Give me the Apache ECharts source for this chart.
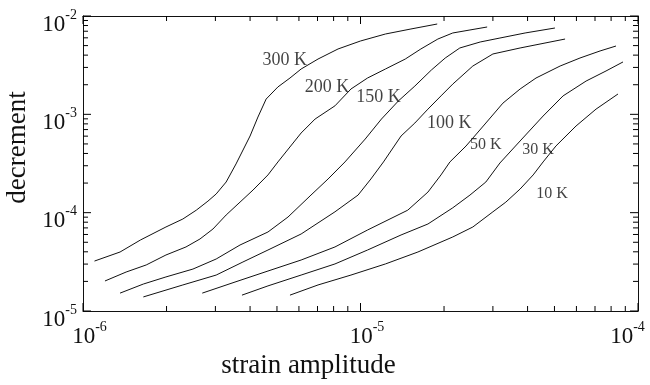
<!DOCTYPE html>
<html>
<head>
<meta charset="utf-8">
<script src="https://cdn.jsdelivr.net/npm/echarts@6/dist/echarts.min.js"></script>
<style>html,body{margin:0;padding:0;background:#fff}#chart{width:650px;height:385px}</style>
</head>
<body>
<div id="chart"></div>
<script>
// strain amplitude (x) and decrement (y)
const x300 = [1.10e-6, 1.36e-6, 1.61e-6, 1.99e-6, 2.29e-6, 2.56e-6, 2.82e-6, 3.02e-6, 3.28e-6, 3.56e-6, 4.00e-6, 4.27e-6, 4.57e-6, 5.04e-6, 5.57e-6, 6.11e-6, 7.03e-6, 8.30e-6, 1.00e-5, 1.23e-5, 1.52e-5, 1.89e-5];
const y300 = [3.22e-5, 3.98e-5, 5.27e-5, 7.15e-5, 8.62e-5, 1.06e-4, 1.31e-4, 1.55e-4, 2.05e-4, 3.13e-4, 6.02e-4, 9.39e-4, 1.43e-3, 1.90e-3, 2.34e-3, 2.89e-3, 3.65e-3, 4.62e-3, 5.57e-3, 6.56e-3, 7.38e-3, 8.29e-3];

const x200 = [1.20e-6, 1.43e-6, 1.69e-6, 1.99e-6, 2.35e-6, 2.64e-6, 2.94e-6, 3.28e-6, 3.68e-6, 4.10e-6, 4.64e-6, 5.04e-6, 6.11e-6, 6.86e-6, 8.09e-6, 9.24e-6, 1.06e-5, 1.23e-5, 1.45e-5, 1.65e-5, 1.90e-5, 2.15e-5, 2.48e-5, 2.86e-5];
const y200 = [2.02e-5, 2.49e-5, 2.94e-5, 3.71e-5, 4.48e-5, 5.40e-5, 6.82e-5, 9.47e-5, 1.28e-4, 1.70e-4, 2.42e-4, 3.28e-4, 6.46e-4, 8.96e-4, 1.22e-3, 1.81e-3, 2.34e-3, 2.89e-3, 3.65e-3, 4.62e-3, 5.83e-3, 6.72e-3, 7.21e-3, 7.73e-3];

const x150 = [1.36e-6, 1.65e-6, 1.99e-6, 2.49e-6, 3.02e-6, 3.68e-6, 4.64e-6, 5.48e-6, 6.63e-6, 7.64e-6, 8.79e-6, 1.04e-5, 1.19e-5, 1.37e-5, 1.57e-5, 1.80e-5, 2.02e-5, 2.28e-5, 2.70e-5, 3.18e-5, 3.92e-5, 5.02e-5];
const y150 = [1.52e-5, 1.88e-5, 2.22e-5, 2.67e-5, 3.38e-5, 4.69e-5, 6.36e-5, 9.03e-5, 1.51e-4, 2.20e-4, 3.28e-4, 5.61e-4, 8.96e-4, 1.37e-3, 1.94e-3, 2.82e-3, 3.74e-3, 4.73e-3, 5.44e-3, 5.97e-3, 6.72e-3, 7.55e-3];

const x100 = [1.65e-6, 2.29e-6, 3.02e-6, 3.77e-6, 4.64e-6, 6.11e-6, 8.09e-6, 9.80e-6, 1.09e-5, 1.21e-5, 1.40e-5, 1.57e-5, 1.75e-5, 1.95e-5, 2.15e-5, 2.54e-5, 3.00e-5, 3.76e-5, 5.46e-5];
const y100 = [1.39e-5, 1.84e-5, 2.32e-5, 3.15e-5, 4.17e-5, 6.07e-5, 1.02e-4, 1.51e-4, 2.20e-4, 3.28e-4, 6.02e-4, 8.16e-4, 1.13e-3, 1.54e-3, 2.03e-3, 3.10e-3, 4.11e-3, 4.73e-3, 5.83e-3];

const x50 = [2.69e-6, 3.53e-6, 4.64e-6, 6.11e-6, 8.09e-6, 1.06e-5, 1.48e-5, 1.75e-5, 1.95e-5, 2.10e-5, 2.40e-5, 2.83e-5, 3.26e-5, 3.76e-5, 4.29e-5, 5.24e-5, 6.18e-5, 7.30e-5, 8.33e-5];
const y50 = [1.52e-5, 1.97e-5, 2.55e-5, 3.30e-5, 4.48e-5, 6.66e-5, 1.06e-4, 1.62e-4, 2.42e-4, 3.28e-4, 4.76e-4, 8.16e-4, 1.30e-3, 1.81e-3, 2.34e-3, 3.10e-3, 3.74e-3, 4.41e-3, 4.95e-3];

const x30 = [3.74e-6, 4.64e-6, 6.11e-6, 8.09e-6, 1.06e-5, 1.40e-5, 1.75e-5, 2.15e-5, 2.48e-5, 2.83e-5, 3.18e-5, 3.76e-5, 4.55e-5, 5.37e-5, 6.50e-5, 7.67e-5, 8.83e-5];
const y30 = [1.45e-5, 1.80e-5, 2.32e-5, 3.01e-5, 4.17e-5, 5.93e-5, 7.67e-5, 1.12e-4, 1.51e-4, 2.05e-4, 3.20e-4, 5.36e-4, 9.61e-4, 1.54e-3, 2.18e-3, 2.76e-3, 3.41e-3];

const x10 = [5.57e-6, 7.03e-6, 9.24e-6, 1.23e-5, 1.61e-5, 2.15e-5, 2.54e-5, 3.00e-5, 3.34e-5, 3.76e-5, 4.19e-5, 4.55e-5, 5.06e-5, 5.98e-5, 7.06e-5, 8.47e-5];
const y10 = [1.45e-5, 1.84e-5, 2.32e-5, 3.01e-5, 3.98e-5, 5.66e-5, 7.15e-5, 1.02e-4, 1.28e-4, 1.74e-4, 2.42e-4, 3.28e-4, 4.76e-4, 7.61e-4, 1.13e-3, 1.61e-3];

// curve labels and where they sit (data coords)
const labelText = ['300 K', '200 K', '150 K', '100 K', '50 K', '30 K', '10 K'];
const labelX = [5.33e-6, 7.57e-6, 1.16e-5, 2.09e-5, 2.83e-5, 4.36e-5, 4.90e-5];
const labelY = [3.57e-3, 1.87e-3, 1.48e-3, 8.16e-4, 4.88e-4, 4.34e-4, 1.57e-4];

// axis ranges, decade ticks and minor (2..9 per decade) tick values
const xRange = [1e-6, 1e-4];
const yRange = [1e-5, 1e-2];
const majorX = [1e-6, 1e-5, 1e-4];
const majorY = [1e-5, 1e-4, 1e-3, 1e-2];
const mantissas = [2, 3, 4, 5, 6, 7, 8, 9];
const minorX = majorX.slice(0, -1).flatMap((d) => mantissas.map((m) => m * d));
const minorY = majorY.slice(0, -1).flatMap((d) => mantissas.map((m) => m * d));

const curves = [[x300, y300], [x200, y200], [x150, y150], [x100, y100], [x50, y50], [x30, y30], [x10, y10]];

const FONT = "'Liberation Serif', 'DejaVu Serif', serif";
const INK = '#111';
const TICK = '#000';
const MAJOR_LEN = 8;
const MINOR_LEN = 5;

const expOf = (v) => Math.round(Math.log10(v));

const axisCommon = {
  axisLine: { show: true, lineStyle: { color: INK, width: 1 } },
  axisTick: { show: false },
  minorTick: { show: false },
  splitLine: { show: false },
  minorSplitLine: { show: false }
};

// inward ticks on all four sides of the frame, placed through the log axes
function tickSeries(values, vertical, len) {
  return {
    type: 'custom',
    silent: true,
    clip: false,
    z: 10,
    data: values.map((v) => (vertical ? [xRange[0], v] : [v, yRange[0]])),
    renderItem: (params, api) => {
      const v = vertical ? api.value(1) : api.value(0);
      const a = api.coord(vertical ? [xRange[0], v] : [v, yRange[0]]);
      const b = api.coord(vertical ? [xRange[1], v] : [v, yRange[1]]);
      const style = { stroke: TICK, lineWidth: 1 };
      const shapes = vertical
        ? [{ x1: a[0], y1: a[1], x2: a[0] + len, y2: a[1] }, { x1: b[0], y1: b[1], x2: b[0] - len, y2: b[1] }]
        : [{ x1: a[0], y1: a[1], x2: a[0], y2: a[1] - len }, { x1: b[0], y1: b[1], x2: b[0], y2: b[1] + len }];
      return { type: 'group', children: shapes.map((shape) => ({ type: 'line', shape, style })) };
    }
  };
}

const chart = echarts.init(document.getElementById('chart'), null, { renderer: 'canvas' });

chart.setOption({
  animation: false,
  backgroundColor: '#fff',
  grid: { left: 83, right: 12, top: 16, bottom: 74, containLabel: false, outerBoundsMode: 'none' },
  xAxis: [
    {
      type: 'log', logBase: 10, min: xRange[0], max: xRange[1], position: 'bottom',
      ...axisCommon,
      axisLabel: {
        margin: 9,
        formatter: (v) => expOf(v) === -4 ? `{bl|10}{sl|${expOf(v)}}` : `{b|10}{s|${expOf(v)}}`,
        rich: {
          b: { fontFamily: FONT, fontSize: 23, color: INK, lineHeight: 28, verticalAlign: 'bottom', padding: [0, 0, 0, 13] },
          s: { fontFamily: FONT, fontSize: 14, color: INK, verticalAlign: 'top' },
          bl: { fontFamily: FONT, fontSize: 23, color: INK, lineHeight: 28, verticalAlign: 'bottom' },
          sl: { fontFamily: FONT, fontSize: 14, color: INK, verticalAlign: 'top', padding: [0, 21, 0, 0] }
        }
      },
      name: 'strain amplitude', nameLocation: 'middle', nameGap: 38,
      nameTextStyle: { fontFamily: FONT, fontSize: 27, color: INK, padding: [0, 104, 0, 0] }
    },
    { type: 'log', logBase: 10, min: xRange[0], max: xRange[1], position: 'top', ...axisCommon, axisLabel: { show: false } }
  ],
  yAxis: [
    {
      type: 'log', logBase: 10, min: yRange[0], max: yRange[1], position: 'left',
      ...axisCommon,
      axisLabel: {
        margin: 6,
        padding: [12, 0, 0, 0],
        formatter: (v) => `{b|10}{s|${expOf(v)}}`,
        rich: {
          b: { fontFamily: FONT, fontSize: 23, color: INK, lineHeight: 28, verticalAlign: 'bottom' },
          s: { fontFamily: FONT, fontSize: 14, color: INK, verticalAlign: 'top' }
        }
      },
      name: 'decrement', nameLocation: 'middle', nameGap: 46, nameRotate: 90,
      nameTextStyle: { fontFamily: FONT, fontSize: 27, color: INK, padding: [0, 0, 0, 32] }
    },
    { type: 'log', logBase: 10, min: yRange[0], max: yRange[1], position: 'right', ...axisCommon, axisLabel: { show: false } }
  ],
  series: [
    ...curves.map(([xs, ys]) => ({
      type: 'line',
      data: xs.map((x, i) => [x, ys[i]]),
      showSymbol: false,
      silent: true,
      lineStyle: { color: INK, width: 1 }
    })),
    tickSeries(majorX, false, MAJOR_LEN),
    tickSeries(majorY, true, MAJOR_LEN),
    tickSeries(minorX, false, MINOR_LEN),
    tickSeries(minorY, true, MINOR_LEN),
    {
      type: 'scatter',
      symbolSize: 1,
      itemStyle: { color: 'rgba(0,0,0,0)' },
      silent: true,
      data: labelText.map((t, i) => ({ name: t, value: [labelX[i], labelY[i]] })),
      label: {
        show: true,
        position: 'inside',
        formatter: (p) => p.dataIndex < 4 ? `{a|${p.name}}` : `{c|${p.name}}`,
        rich: {
          a: { fontFamily: FONT, fontSize: 18, color: INK },
          c: { fontFamily: FONT, fontSize: 16, color: INK }
        }
      }
    }
  ]
});
</script>
</body>
</html>
